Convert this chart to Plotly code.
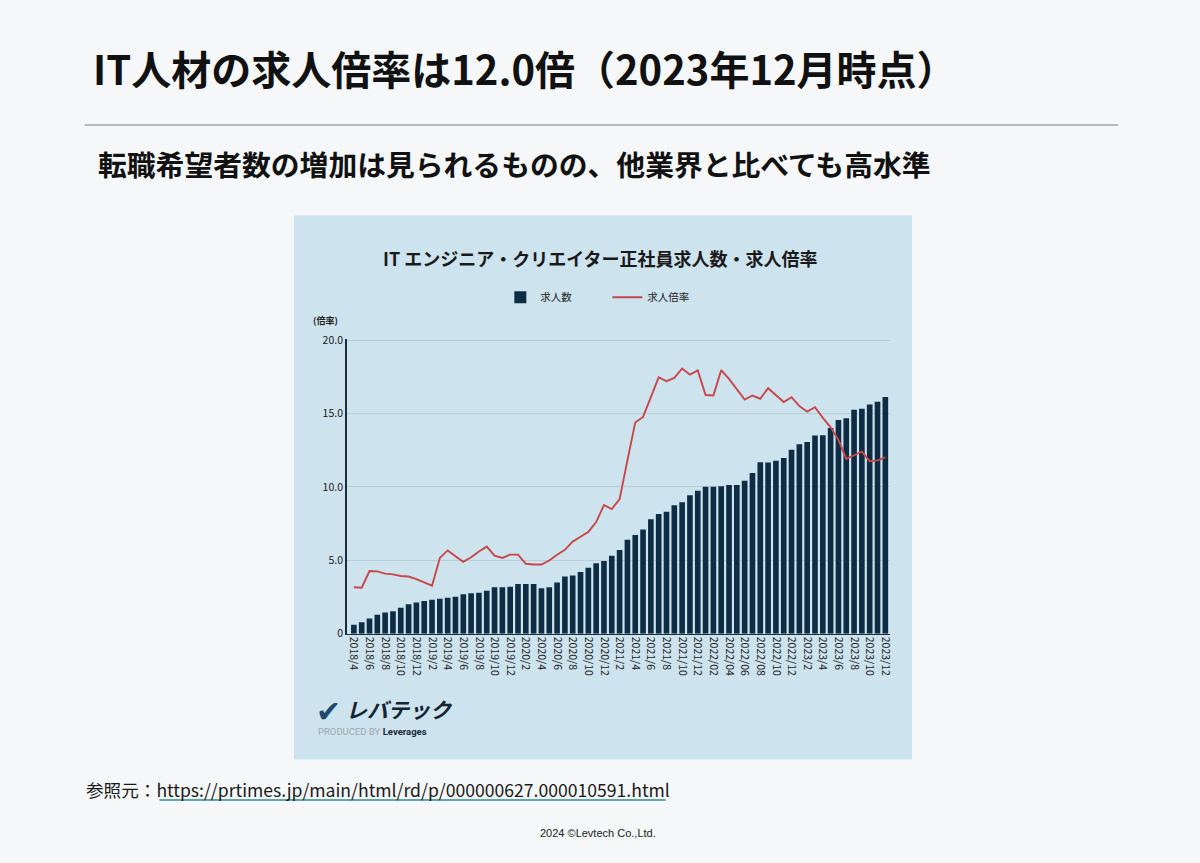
import plotly.graph_objects as go

# months 2018/4 .. 2023/12
months = [
    "2018/4", "2018/5", "2018/6", "2018/7", "2018/8", "2018/9", "2018/10", "2018/11", "2018/12",
    "2019/1", "2019/2", "2019/3", "2019/4", "2019/5", "2019/6", "2019/7", "2019/8", "2019/9",
    "2019/10", "2019/11", "2019/12",
    "2020/1", "2020/2", "2020/3", "2020/4", "2020/5", "2020/6", "2020/7", "2020/8", "2020/9",
    "2020/10", "2020/11", "2020/12",
    "2021/1", "2021/2", "2021/3", "2021/4", "2021/5", "2021/6", "2021/7", "2021/8", "2021/9",
    "2021/10", "2021/11", "2021/12",
    "2022/1", "2022/2", "2022/3", "2022/4", "2022/5", "2022/6", "2022/7", "2022/8", "2022/9",
    "2022/10", "2022/11", "2022/12",
    "2023/1", "2023/2", "2023/3", "2023/4", "2023/5", "2023/6", "2023/7", "2023/8", "2023/9",
    "2023/10", "2023/11", "2023/12",
]

tick_labels = [
    "2018/4", "2018/6", "2018/8", "2018/10", "2018/12",
    "2019/2", "2019/4", "2019/6", "2019/8", "2019/10", "2019/12",
    "2020/2", "2020/4", "2020/6", "2020/8", "2020/10", "2020/12",
    "2021/2", "2021/4", "2021/6", "2021/8", "2021/10", "2021/12",
    "2022/02", "2022/04", "2022/06", "2022/08", "2022/10", "2022/12",
    "2023/2", "2023/4", "2023/6", "2023/8", "2023/10", "2023/12",
]

# 求人数 (index, read against the same 0-20 scale)
job_count = [
    0.60, 0.78, 1.04, 1.29, 1.44, 1.53, 1.76, 2.00, 2.13,
    2.22, 2.31, 2.38, 2.44, 2.51, 2.69, 2.76, 2.78, 2.93,
    3.16, 3.16, 3.20,
    3.38, 3.38, 3.38, 3.09, 3.16, 3.49, 3.89, 3.96, 4.20,
    4.49, 4.80, 4.95,
    5.30, 5.70, 6.40, 6.72, 7.10, 7.80, 8.15, 8.30, 8.75,
    8.95, 9.42, 9.74,
    10.00, 10.00, 10.04, 10.12, 10.12, 10.42, 10.95, 11.67, 11.65,
    11.78, 11.97, 12.52,
    12.90, 13.05, 13.50, 13.52, 14.00, 14.55, 14.67, 15.25, 15.32,
    15.60, 15.80, 16.12,
]

# 求人倍率
job_ratio = [
    3.16, 3.13, 4.27, 4.24, 4.09, 4.04, 3.93, 3.89, 3.71,
    3.49, 3.27, 5.16, 5.67, 5.27, 4.89, 5.20, 5.60, 5.93,
    5.31, 5.16, 5.38,
    5.38, 4.76, 4.71, 4.71, 4.98, 5.38, 5.71, 6.27, 6.60,
    6.93, 7.60, 8.76,
    8.49, 9.16, 11.80, 14.38, 14.76, 16.10, 17.46, 17.20, 17.42,
    18.06, 17.64, 17.93,
    16.25, 16.22, 17.95, 17.35, 16.69, 15.95, 16.22, 16.00, 16.72,
    16.25, 15.78, 16.11,
    15.50, 15.12, 15.42, 14.70, 14.05, 13.20, 11.90, 12.15, 12.40,
    11.75, 11.80, 12.00,
]

W, H = 1200, 863
FONT = "Noto Sans CJK JP"
PANEL = "#cde3ee"
NAVY = "#0e2c44"
RED = "#c9474b"


def px(x):
    return x / W


def py(y):
    return 1 - y / H


fig = go.Figure()

fig.add_trace(go.Bar(
    x=months, y=job_count, name="求人数",
    marker=dict(color=NAVY, line=dict(width=0)),
))
fig.add_trace(go.Scatter(
    x=months, y=job_ratio, name="求人倍率", mode="lines",
    line=dict(color=RED, width=1.9),
))

fig.update_layout(
    width=W, height=H,
    margin=dict(l=0, r=0, t=0, b=0),
    paper_bgcolor="#f5f7f9",
    plot_bgcolor="rgba(0,0,0,0)",
    font=dict(family=FONT, color="#222"),
    bargap=0.28,
    showlegend=True,
    legend=dict(
        orientation="h", x=px(502), xanchor="left", y=py(295), yanchor="middle",
        font=dict(size=10.5, color="#222"), entrywidth=62, entrywidthmode="pixels",
        bgcolor="rgba(0,0,0,0)", itemwidth=30,
    ),
    xaxis=dict(
        domain=[px(348), px(893)],
        type="category",
        range=[-0.9, 68.6],
        tickmode="array", tickvals=months[::2], ticktext=tick_labels,
        tickangle=90, tickfont=dict(size=10.5, color="#1a1a1a"),
        showgrid=False, showline=True, linecolor="#1d2b36", linewidth=1,
        ticks="", zeroline=False,
    ),
    yaxis=dict(
        domain=[py(637), py(337)],
        range=[0, 20.1],
        tickmode="array", tickvals=[0, 5, 10, 15, 20],
        ticktext=["0", "5.0", "10.0", "15.0", "20.0"],
        tickfont=dict(size=10.5, color="#1a1a1a"),
        showgrid=True, gridcolor="#b8cdd8", gridwidth=1,
        showline=True, linecolor="#1d2b36", linewidth=1.5,
        ticks="", zeroline=False,
    ),
)

shapes = [
    # chart panel
    dict(type="rect", xref="paper", yref="paper",
         x0=px(295), x1=px(915), y0=py(765), y1=py(212),
         fillcolor=PANEL, line=dict(width=0), layer="below"),
    # rule under title
    dict(type="line", xref="paper", yref="paper",
         x0=px(85), x1=px(1122), y0=py(120), y1=py(120),
         line=dict(color="#b5b8bb", width=2)),
    # link underline
    dict(type="line", xref="paper", yref="paper",
         x0=px(160), x1=px(668), y0=py(806), y1=py(806),
         line=dict(color="#2e8c8f", width=1.5)),
]
fig.update_layout(shapes=shapes)

annotations = [
    dict(text="<b>IT人材の求人倍率は12.0倍（2023年12月時点）</b>",
         x=px(91), y=py(62), xanchor="left", yanchor="middle",
         font=dict(size=40, color="#111")),
    dict(text="<b>転職希望者数の増加は見られるものの、他業界と比べても高水準</b>",
         x=px(96), y=py(159), xanchor="left", yanchor="middle",
         font=dict(size=28.8, color="#111")),
    dict(text="<b>IT エンジニア・クリエイター正社員求人数・求人倍率</b>",
         x=px(603), y=py(255), xanchor="center", yanchor="middle",
         font=dict(size=18, color="#1a1a1a")),
    dict(text="<b>(倍率)</b>",
         x=px(312), y=py(319), xanchor="left", yanchor="middle",
         font=dict(size=9, color="#222")),
    # logo
    dict(text="<b>✔</b>", x=px(315), y=py(716), xanchor="left", yanchor="middle",
         font=dict(family="DejaVu Sans", size=30, color="#1f4a6e")),
    dict(text="<b><i>レバテック</i></b>", x=px(345), y=py(714), xanchor="left", yanchor="middle",
         font=dict(size=21, color="#142434")),
    dict(text="PRODUCED BY <span style='color:#1a2a3a'><b>Leverages</b></span>",
         x=px(317), y=py(736), xanchor="left", yanchor="middle",
         font=dict(family="Roboto", size=9.5, color="#a0a8ae")),
    # footer
    dict(text="参照元：https://prtimes.jp/main/html/rd/p/000000627.000010591.html",
         x=px(84), y=py(795), xanchor="left", yanchor="middle",
         font=dict(family=FONT, size=17.6, color="#1a1a1a")),
    dict(text="2024 ©Levtech Co.,Ltd.",
         x=px(600), y=py(840), xanchor="center", yanchor="middle",
         font=dict(family="Liberation Sans", size=11, color="#222")),
]
for a in annotations:
    a.setdefault("xref", "paper")
    a.setdefault("yref", "paper")
    a.setdefault("showarrow", False)
fig.update_layout(annotations=annotations)

fig.write_html(
    "out.html",
    config={"displayModeBar": False},
    post_script="document.body.style.margin='0';document.body.style.overflow='hidden';",
)
